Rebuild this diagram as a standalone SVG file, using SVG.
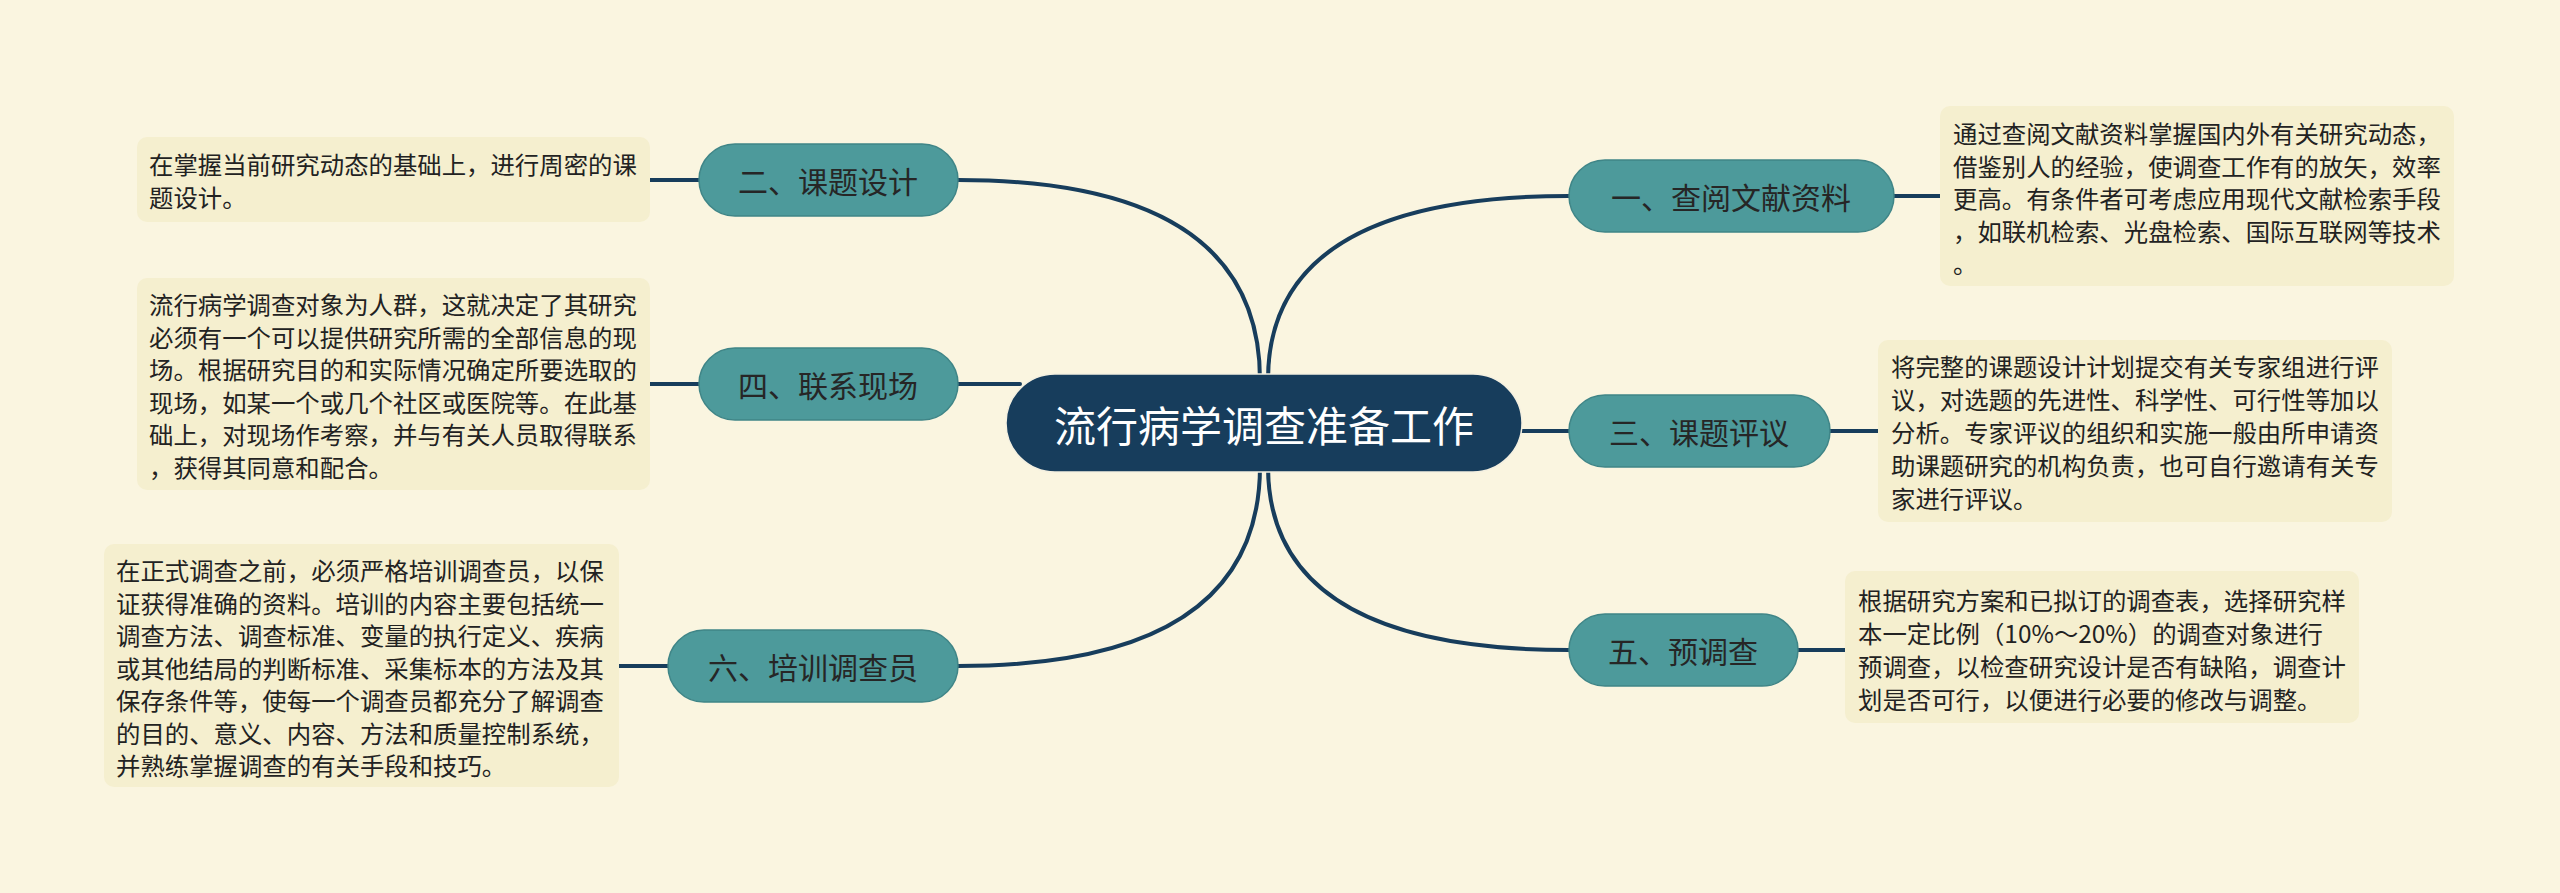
<svg xmlns="http://www.w3.org/2000/svg" width="2560" height="893" viewBox="0 0 2560 893">
<style>
.bg{fill:#FAF5E0}
.box{fill:#F5EFCF}
.sub{fill:#4D9A9B;stroke:#3F8587;stroke-width:1.5}
.subt{font-family:"Noto Sans CJK SC","Noto Sans",sans-serif;font-size:30px;fill:#262626;text-anchor:middle;dominant-baseline:central}
.bt{font-family:"Noto Sans CJK SC","Noto Sans",sans-serif;font-size:24.4px;fill:#222}
.ln{fill:none;stroke:#173D5C;stroke-width:4;stroke-linecap:round}
</style>
<rect class="bg" x="0" y="0" width="2560" height="893"/>
<g id="connectors">
<path class="ln" d="M1268 380 Q1268 196 1569 196"/>
<path class="ln" d="M1268 466 Q1268 650 1569 650"/>
<path class="ln" d="M1515 431 L1569 431"/>
<path class="ln" d="M1260 380 Q1260 180 958 180"/>
<path class="ln" d="M1260 466 Q1260 666 958 666"/>
<path class="ln" d="M1020 384 L958 384"/>
<path class="ln" d="M1894 196 L1940 196"/>
<path class="ln" d="M1830 431 L1878 431"/>
<path class="ln" d="M1798 650 L1845 650"/>
<path class="ln" d="M699 180 L650 180"/>
<path class="ln" d="M699 384 L650 384"/>
<path class="ln" d="M668 666 L619 666"/>
</g>
<g id="center">
<rect x="1006" y="374" width="516" height="98" rx="49" fill="#173D5C" stroke="#F4F0E0" stroke-width="1.5"/>
<text x="1264" y="423" font-family="'Noto Sans CJK SC','Noto Sans',sans-serif" font-size="42" fill="#FFFFFF" text-anchor="middle" dominant-baseline="central">流行病学调查准备工作</text>
</g>
<g id="n1">
<rect class="sub" x="1569" y="160" width="325" height="72" rx="36"/>
<text class="subt" x="1731" y="196">一、查阅文献资料</text>
</g>
<g id="n1t">
<rect class="box" x="1940" y="106" width="514" height="180" rx="10"/>
<text class="bt" x="1953" y="143">通过查阅文献资料掌握国内外有关研究动态，</text>
<text class="bt" x="1953" y="175.5">借鉴别人的经验，使调查工作有的放矢，效率</text>
<text class="bt" x="1953" y="208">更高。有条件者可考虑应用现代文献检索手段</text>
<text class="bt" x="1953" y="240.5">，如联机检索、光盘检索、国际互联网等技术</text>
<text class="bt" x="1953" y="273">。</text>
</g>
<g id="n3">
<rect class="sub" x="1569" y="395" width="261" height="72" rx="36"/>
<text class="subt" x="1699" y="431">三、课题评议</text>
</g>
<g id="n3t">
<rect class="box" x="1878" y="340" width="514" height="182" rx="10"/>
<text class="bt" x="1891" y="376">将完整的课题设计计划提交有关专家组进行评</text>
<text class="bt" x="1891" y="409">议，对选题的先进性、科学性、可行性等加以</text>
<text class="bt" x="1891" y="442">分析。专家评议的组织和实施一般由所申请资</text>
<text class="bt" x="1891" y="475">助课题研究的机构负责，也可自行邀请有关专</text>
<text class="bt" x="1891" y="508">家进行评议。</text>
</g>
<g id="n5">
<rect class="sub" x="1569" y="614" width="229" height="72" rx="36"/>
<text class="subt" x="1683" y="650">五、预调查</text>
</g>
<g id="n5t">
<rect class="box" x="1845" y="571" width="514" height="152" rx="10"/>
<text class="bt" x="1858" y="610">根据研究方案和已拟订的调查表，选择研究样</text>
<text class="bt" x="1858" y="643">本一定比例（10%～20%）的调查对象进行</text>
<text class="bt" x="1858" y="676">预调查，以检查研究设计是否有缺陷，调查计</text>
<text class="bt" x="1858" y="709">划是否可行，以便进行必要的修改与调整。</text>
</g>
<g id="n2">
<rect class="sub" x="699" y="144" width="259" height="72" rx="36"/>
<text class="subt" x="828" y="180">二、课题设计</text>
</g>
<g id="n2t">
<rect class="box" x="137" y="137" width="513" height="85" rx="10"/>
<text class="bt" x="149" y="174">在掌握当前研究动态的基础上，进行周密的课</text>
<text class="bt" x="149" y="207">题设计。</text>
</g>
<g id="n4">
<rect class="sub" x="699" y="348" width="259" height="72" rx="36"/>
<text class="subt" x="828" y="384">四、联系现场</text>
</g>
<g id="n4t">
<rect class="box" x="137" y="278" width="513" height="212" rx="10"/>
<text class="bt" x="149" y="314">流行病学调查对象为人群，这就决定了其研究</text>
<text class="bt" x="149" y="347">必须有一个可以提供研究所需的全部信息的现</text>
<text class="bt" x="149" y="379">场。根据研究目的和实际情况确定所要选取的</text>
<text class="bt" x="149" y="412">现场，如某一个或几个社区或医院等。在此基</text>
<text class="bt" x="149" y="444">础上，对现场作考察，并与有关人员取得联系</text>
<text class="bt" x="149" y="477">，获得其同意和配合。</text>
</g>
<g id="n6">
<rect class="sub" x="668" y="630" width="290" height="72" rx="36"/>
<text class="subt" x="813" y="666">六、培训调查员</text>
</g>
<g id="n6t">
<rect class="box" x="104" y="544" width="515" height="243" rx="10"/>
<text class="bt" x="116" y="580">在正式调查之前，必须严格培训调查员，以保</text>
<text class="bt" x="116" y="613">证获得准确的资料。培训的内容主要包括统一</text>
<text class="bt" x="116" y="645">调查方法、调查标准、变量的执行定义、疾病</text>
<text class="bt" x="116" y="678">或其他结局的判断标准、采集标本的方法及其</text>
<text class="bt" x="116" y="710">保存条件等，使每一个调查员都充分了解调查</text>
<text class="bt" x="116" y="743">的目的、意义、内容、方法和质量控制系统，</text>
<text class="bt" x="116" y="775">并熟练掌握调查的有关手段和技巧。</text>
</g>
</svg>
